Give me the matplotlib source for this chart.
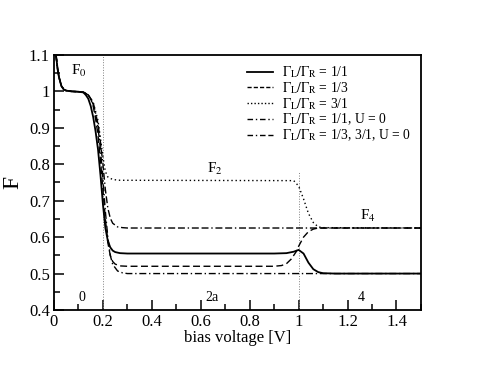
import numpy as np
import matplotlib
matplotlib.use("Agg")
import matplotlib.pyplot as plt
from matplotlib.ticker import MultipleLocator, FuncFormatter

plt.rcParams['font.family'] = ['Liberation Serif', 'DejaVu Serif']
plt.rcParams['mathtext.fontset'] = 'stix'

# start of all curves (near zero bias)
x_start = [0.008, 0.015, 0.02, 0.03, 0.04, 0.05, 0.07, 0.1]
y_start = [1.1, 1.06, 1.04, 1.015, 1.005, 1.002, 1.0, 0.999]

# G_L/G_R = 1/1
x_11 = [0.12, 0.13, 0.14, 0.15, 0.16, 0.17, 0.18, 0.19, 0.2, 0.21, 0.22, 0.23, 0.24, 0.25, 0.27, 0.3,
        0.9, 0.95, 0.98, 1.0, 1.02, 1.04, 1.06, 1.08, 1.1, 1.15, 1.5]
y_11 = [0.997, 0.99, 0.98, 0.96, 0.93, 0.89, 0.84, 0.77, 0.69, 0.625, 0.59, 0.572, 0.563, 0.559, 0.556, 0.555,
        0.555, 0.556, 0.56, 0.565, 0.555, 0.53, 0.512, 0.504, 0.501, 0.5, 0.5]

# G_L/G_R = 1/3
x_13 = [0.12, 0.14, 0.15, 0.16, 0.17, 0.18, 0.19, 0.2, 0.21, 0.22, 0.23, 0.24, 0.25, 0.27, 0.3,
        0.9, 0.93, 0.95, 0.97, 0.99, 1.0, 1.02, 1.04, 1.06, 1.08, 1.5]
y_13 = [0.998, 0.99, 0.98, 0.96, 0.925, 0.88, 0.81, 0.73, 0.65, 0.585, 0.55, 0.533, 0.526, 0.521, 0.52,
        0.52, 0.522, 0.527, 0.54, 0.56, 0.575, 0.6, 0.615, 0.622, 0.625, 0.625]

# G_L/G_R = 3/1
x_31 = [0.12, 0.14, 0.16, 0.18, 0.19, 0.2, 0.21, 0.22, 0.24, 0.27,
        0.98, 1.0, 1.02, 1.04, 1.06, 1.08, 1.1, 1.5]
y_31 = [0.998, 0.99, 0.97, 0.92, 0.87, 0.82, 0.78, 0.765, 0.758, 0.756,
        0.755, 0.74, 0.705, 0.665, 0.64, 0.628, 0.626, 0.625]

# G_L/G_R = 1/1, U = 0
x_u0a = [0.12, 0.14, 0.16, 0.18, 0.19, 0.2, 0.21, 0.22, 0.23, 0.24, 0.26, 0.28, 0.3, 1.5]
y_u0a = [0.998, 0.99, 0.965, 0.9, 0.84, 0.76, 0.67, 0.6, 0.55, 0.525, 0.507, 0.502, 0.5, 0.5]

# G_L/G_R = 1/3, 3/1, U = 0
x_u0b = [0.12, 0.14, 0.16, 0.18, 0.19, 0.2, 0.21, 0.22, 0.23, 0.24, 0.26, 0.28, 0.3, 1.5]
y_u0b = [0.998, 0.99, 0.97, 0.91, 0.86, 0.8, 0.73, 0.68, 0.652, 0.638, 0.628, 0.626, 0.625, 0.625]

labels = [r'$\Gamma_\mathrm{L}/\Gamma_\mathrm{R}$ = 1/1',
          r'$\Gamma_\mathrm{L}/\Gamma_\mathrm{R}$ = 1/3',
          r'$\Gamma_\mathrm{L}/\Gamma_\mathrm{R}$ = 3/1',
          r'$\Gamma_\mathrm{L}/\Gamma_\mathrm{R}$ = 1/1, U = 0',
          r'$\Gamma_\mathrm{L}/\Gamma_\mathrm{R}$ = 1/3, 3/1, U = 0']

fig = plt.figure(figsize=(4.8, 3.71), dpi=100)
ax = fig.add_axes([0.1125, 0.1644, 0.7645, 0.6876])

ax.axvline(0.2, color='gray', ls=':', lw=0.7)
ax.plot([1.0, 1.0], [0.4, 0.78], color='gray', ls=':', lw=0.7)

ax.plot(x_start + x_u0b, y_start + y_u0b, color='k', lw=1.0, ls=(0, (5, 2, 1, 2, 5, 2)))
ax.plot(x_start + x_u0a, y_start + y_u0a, color='k', lw=1.0, ls=(0, (5, 2, 1, 2)))
ax.plot(x_start + x_31, y_start + y_31, color='k', lw=1.0, ls=(0, (1, 2)))
ax.plot(x_start + x_13, y_start + y_13, color='k', lw=1.0, ls=(0, (5, 2.5)))
ax.plot(x_start + x_11, y_start + y_11, color='k', lw=1.3)

# legend proxies in table order
h = []
for ls, lw in [('-', 1.3), ((0, (3, 1.5)), 1.0), ((0, (1, 1.5)), 1.0),
               ((0, (4, 2, 1, 2)), 1.0), ((0, (4, 2, 1, 2, 4, 2)), 1.0)]:
    h += ax.plot([], [], color='k', ls=ls, lw=lw)
ax.legend(h, labels, loc='upper right', frameon=False, fontsize=9.8,
          handlelength=1.9, handletextpad=0.7, labelspacing=0.0, borderaxespad=0.3,
          bbox_to_anchor=(1.0, 1.0))

ax.text(0.07, 1.045, 'F$_0$', fontsize=11)
ax.text(0.625, 0.775, 'F$_2$', fontsize=11)
ax.text(1.25, 0.648, 'F$_4$', fontsize=11)
ax.text(0.1, 0.425, '0', fontsize=10)
ax.text(0.62, 0.425, '2a', fontsize=10)
ax.text(1.24, 0.425, '4', fontsize=10)

ax.set_xlim(0, 1.5)
ax.set_ylim(0.4, 1.1)
ax.xaxis.set_major_locator(MultipleLocator(0.2))
ax.xaxis.set_minor_locator(MultipleLocator(0.1))
ax.yaxis.set_major_locator(MultipleLocator(0.1))
ax.yaxis.set_minor_locator(MultipleLocator(0.05))
fmt = FuncFormatter(lambda v, p: '%g' % round(v, 3))
ax.xaxis.set_major_formatter(fmt)
ax.yaxis.set_major_formatter(fmt)
ax.tick_params(which='both', direction='in', top=False, right=False, labelsize=12, width=1.1)
ax.tick_params(which='major', length=7, pad=3)
ax.tick_params(which='minor', length=4)
for s in ax.spines.values():
    s.set_linewidth(1.3)

ax.set_xlabel('bias voltage [V]', fontsize=12, labelpad=0)
ax.set_ylabel('F', fontsize=17, labelpad=4)

fig.savefig('out.png', dpi=100)
